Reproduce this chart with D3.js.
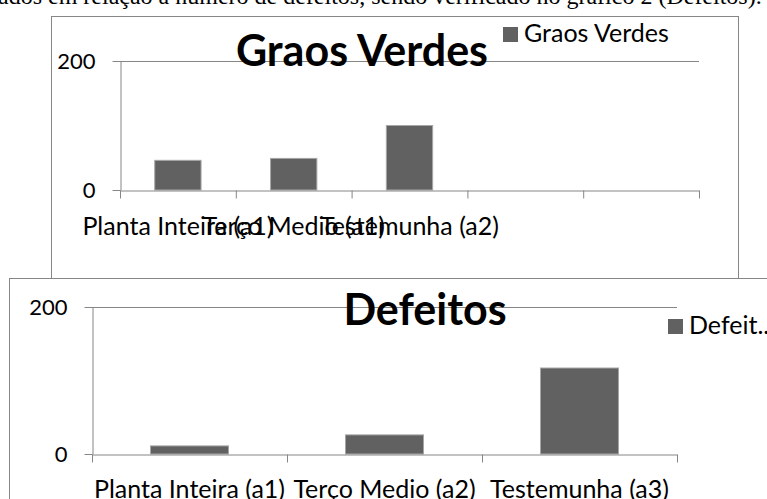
<!DOCTYPE html>
<html>
<head>
<meta charset="utf-8">
<script src="https://cdn.jsdelivr.net/npm/d3@7/dist/d3.min.js"></script>
<style>
  body { margin: 0; background: #fff; }
  svg { display: block; }
  .axis text { font-family: Lato, sans-serif; fill: #000; }
  .axis path, .axis line { stroke: #868686; }
</style>
</head>
<body>
<div id="chart"></div>
<script>
// data
var introText = 'ados em relação a número de defeitos, sendo verificado no gráfico 2 (Defeitos).';

var graosCategories = ['Planta Inteira (a1)', 'Terço Medio (a1)', 'Testemunha (a2)', '', ''];
var graosValues = [46, 49, 100, null, null];
var graosTitle = 'Graos Verdes';
var graosLegend = 'Graos Verdes';

var defeitosCategories = ['Planta Inteira (a1)', 'Terço Medio (a2)', 'Testemunha (a3)'];
var defeitosValues = [11, 26, 117];
var defeitosTitle = 'Defeitos';
var defeitosLegend = 'Defeit..';

var yTicks = [0, 200];

var W = 767, H = 499;

var svg = d3.select('#chart').append('svg')
  .attr('width', W)
  .attr('height', H);

// paragraph text cut off at the top of the page
svg.append('text')
  .attr('x', -2)
  .attr('y', 4)
  .attr('font-family', '"Liberation Serif", "Times New Roman", serif')
  .attr('font-size', 24)
  .text(introText);

function drawChart(cfg) {
  var g = svg.append('g');

  // chart box (white so it hides what is behind it)
  g.append('rect')
    .attr('x', cfg.box[0] + 0.5)
    .attr('y', cfg.box[1] + 0.5)
    .attr('width', cfg.box[2])
    .attr('height', cfg.box[3])
    .attr('fill', '#fff')
    .attr('stroke', '#868686');

  var n = cfg.categories.length;
  var x = d3.scaleBand()
    .domain(d3.range(n))
    .range([cfg.plot.left, cfg.plot.right])
    .paddingInner(0.6)
    .paddingOuter(0.3);
  // category boundaries for the tick marks
  var xEdge = d3.scaleLinear().domain([0, n]).range([cfg.plot.left, cfg.plot.right]);
  var y = d3.scaleLinear().domain([0, 200]).range([cfg.plot.bottom, cfg.plot.top]);

  // gridline at 200
  g.append('g').selectAll('line')
    .data(yTicks.filter(function(d) { return d > 0; }))
    .join('line')
    .attr('x1', cfg.plot.left)
    .attr('x2', cfg.plot.right)
    .attr('y1', function(d) { return Math.round(y(d)) + 0.5; })
    .attr('y2', function(d) { return Math.round(y(d)) + 0.5; })
    .attr('stroke', '#868686');

  // bars
  g.append('g').selectAll('rect')
    .data(cfg.values.map(function(v, i) { return {i: i, v: v}; }).filter(function(d) { return d.v != null; }))
    .join('rect')
    .attr('x', function(d) { return x(d.i); })
    .attr('y', function(d) { return y(d.v); })
    .attr('width', x.bandwidth())
    .attr('height', function(d) { return y(0) - y(d.v); })
    .attr('fill', '#616161')
    .attr('stroke', '#a6a6a6')
    .attr('stroke-width', 1);

  // value axis
  var yAxis = g.append('g')
    .attr('class', 'axis')
    .attr('transform', 'translate(' + (cfg.plot.left + 0.5) + ',0)')
    .call(d3.axisLeft(y).tickValues(yTicks).tickSize(8).tickPadding(cfg.yPad).tickSizeOuter(0));
  yAxis.selectAll('text').attr('font-size', cfg.yFont);

  // category tick marks
  g.append('g')
    .attr('class', 'axis')
    .attr('transform', 'translate(0,' + (cfg.plot.bottom + 0.5) + ')')
    .call(d3.axisBottom(xEdge).tickValues(d3.range(n + 1)).tickSize(8).tickFormat('').tickSizeOuter(0));

  // category labels
  var xAxis = g.append('g')
    .attr('class', 'axis')
    .attr('transform', 'translate(0,' + cfg.plot.bottom + ')')
    .call(d3.axisBottom(x).tickSize(0).tickPadding(cfg.xPad).tickFormat(function(i) { return cfg.categories[i]; }));
  xAxis.select('.domain').remove();
  xAxis.selectAll('text').attr('font-size', cfg.xFont);

  // title
  g.append('text')
    .attr('x', cfg.title[0])
    .attr('y', cfg.title[1])
    .attr('text-anchor', 'middle')
    .attr('font-family', 'Lato, sans-serif')
    .attr('font-weight', 'bold')
    .attr('font-size', cfg.titleFont)
    .text(cfg.titleText);

  // legend
  g.append('rect')
    .attr('x', cfg.legend[0])
    .attr('y', cfg.legend[1])
    .attr('width', 15)
    .attr('height', 15)
    .attr('fill', '#616161');
  g.append('text')
    .attr('x', cfg.legend[0] + 21)
    .attr('y', cfg.legend[1] + 15)
    .attr('font-family', 'Lato, sans-serif')
    .attr('font-size', cfg.legendFont)
    .text(cfg.legendText);
}

drawChart({
  box: [51, 16, 687, 300],
  plot: {left: 120, right: 699, top: 61, bottom: 190},
  categories: graosCategories,
  values: graosValues,
  titleText: graosTitle,
  title: [362, 66],
  titleFont: 43,
  legendText: graosLegend,
  legend: [503, 27],
  legendFont: 25,
  yFont: 22, yPad: 17,
  xFont: 25, xPad: 27
});

drawChart({
  box: [9, 278, 780, 240],
  plot: {left: 92, right: 677, top: 307, bottom: 454},
  categories: defeitosCategories,
  values: defeitosValues,
  titleText: defeitosTitle,
  title: [425, 325],
  titleFont: 43,
  legendText: defeitosLegend,
  legend: [668, 319],
  legendFont: 25,
  yFont: 22, yPad: 17,
  xFont: 25, xPad: 26
});
</script>
</body>
</html>
